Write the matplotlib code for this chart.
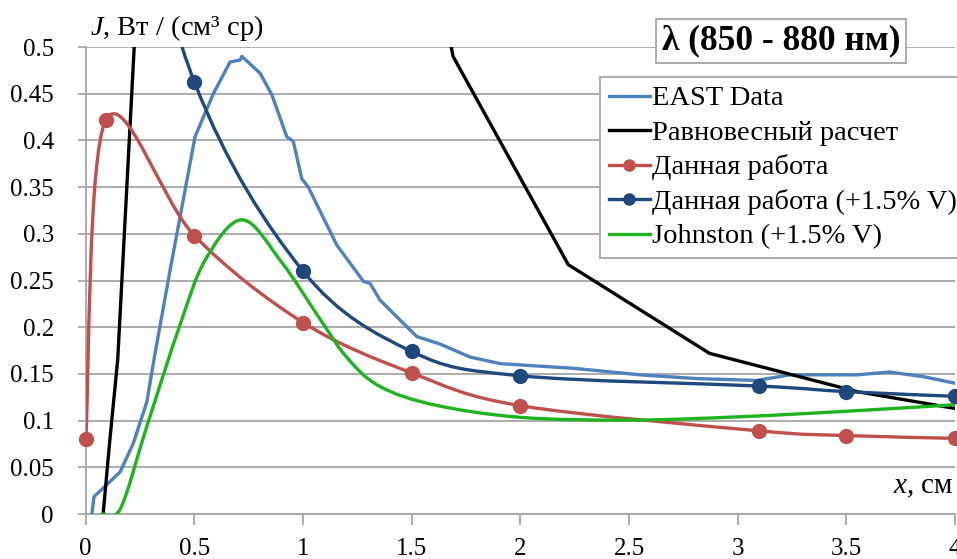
import matplotlib
matplotlib.use("Agg")
import matplotlib.pyplot as plt
import numpy as np
from matplotlib.lines import Line2D
from matplotlib.patches import PathPatch
from matplotlib.path import Path

# EAST Data (experiment)
east_x = [0.028, 0.038, 0.158, 0.219, 0.281, 0.319, 0.388, 0.503, 0.587, 0.664,
          0.71, 0.718, 0.802, 0.856, 0.925, 0.955, 0.994, 1.024, 1.155, 1.278,
          1.308, 1.354, 1.523, 1.63, 1.769, 1.907, 2.244, 2.55, 2.81, 3.088,
          3.241, 3.548, 3.70, 3.855, 4.0]
east_y = [0.0, 0.0185, 0.045, 0.0757, 0.12, 0.172, 0.261, 0.404, 0.45, 0.484,
          0.486, 0.490, 0.472, 0.449, 0.404, 0.399, 0.359, 0.350, 0.288, 0.249,
          0.247, 0.229, 0.19, 0.182, 0.168, 0.161, 0.156, 0.149, 0.145, 0.143,
          0.149, 0.149, 0.152, 0.147, 0.14]

# equilibrium calculation
eq_x = [0.08, 0.112, 0.147, 0.30, 1.50, 1.69, 2.22, 2.87, 3.55, 4.0]
eq_y = [0.0, 0.082, 0.165, 0.84, 0.72, 0.49, 0.267, 0.172, 0.131, 0.113]

# this work
work_x = [0.0, 0.093, 0.5, 1.0, 1.5, 2.0, 3.1, 3.5, 4.0]
work_y = [0.08, 0.422, 0.298, 0.205, 0.151, 0.116, 0.089, 0.084, 0.081]

# this work, +1.5% V
work_v_x = [0.093, 0.5, 1.0, 1.5, 2.0, 3.1, 3.5, 4.0]
work_v_y = [0.80, 0.4625, 0.26, 0.174, 0.148, 0.137, 0.131, 0.126]

# Johnston, +1.5% V
john_x = [0.075, 0.16, 0.28, 0.43, 0.55, 0.72, 0.90, 1.08, 1.2, 1.35,
          1.6, 2.0, 2.5, 3.0, 3.5, 4.0]
john_y = [0.0, 0.006, 0.093, 0.2, 0.272, 0.315, 0.27, 0.208, 0.168,
          0.137, 0.117, 0.1035, 0.1005, 0.104, 0.11, 0.117]

x_ticks = [0, 0.5, 1, 1.5, 2, 2.5, 3, 3.5, 4]
y_ticks = [0, 0.05, 0.1, 0.15, 0.2, 0.25, 0.3, 0.35, 0.4, 0.45, 0.5]

labels = ["EAST Data", "Равновесный расчет", "Данная работа",
          "Данная работа (+1.5% V)", "Johnston (+1.5% V)"]

C_EAST = "#4F81BD"
C_EQ = "#000000"
C_WORK = "#C0504D"
C_WORK_V = "#1F497D"
C_JOHN = "#1EB41E"
GRID = "#A6A6A6"

plt.rcParams["font.family"] = ["Liberation Serif", "DejaVu Serif"]
plt.rcParams["mathtext.fontset"] = "custom"
plt.rcParams["mathtext.it"] = "Liberation Serif:italic"
plt.rcParams["mathtext.rm"] = "Liberation Serif"


def smooth_path(xs, ys):
    """Bezier spline through the points, like a smoothed spreadsheet line."""
    pts = np.column_stack([xs, ys]).astype(float)
    n = len(pts)
    verts = [pts[0]]
    codes = [Path.MOVETO]
    for i in range(n - 1):
        p0 = pts[i - 1] if i > 0 else pts[i]
        p1 = pts[i]
        p2 = pts[i + 1]
        p3 = pts[i + 2] if i + 2 < n else pts[i + 1]
        verts += [p1 + (p2 - p0) / 6, p2 - (p3 - p1) / 6, p2]
        codes += [Path.CURVE4] * 3
    return Path(verts, codes)


fig = plt.figure(figsize=(9.57, 5.59), dpi=100)
ax = fig.add_axes([0.0896, 0.0805, 0.9084, 0.8354])

lw = 2.4
ax.plot(east_x, east_y, color=C_EAST, lw=lw, zorder=3)
ax.plot(eq_x, eq_y, color=C_EQ, lw=lw, zorder=3)
for xs, ys, c in [(work_x, work_y, C_WORK), (work_v_x, work_v_y, C_WORK_V),
                  (john_x, john_y, C_JOHN)]:
    ax.add_patch(PathPatch(smooth_path(xs, ys), fill=False, edgecolor=c,
                           lw=lw, zorder=3, capstyle="round"))
ax.plot(work_x, work_y, "o", color=C_WORK, ms=10, zorder=4, clip_on=False)
ax.plot(work_v_x[1:], work_v_y[1:], "o", color=C_WORK_V, ms=10, zorder=4,
        clip_on=False)

ax.set_xlim(0, 4)
ax.set_ylim(0, 0.5)
ax.set_xticks(x_ticks)
ax.set_xticklabels([f"{v:g}" for v in x_ticks])
ax.set_yticks(y_ticks)
ax.set_yticklabels([f"{v:g}" for v in y_ticks])
ax.tick_params(axis="both", labelsize=18, color=GRID, width=1.3)
ax.tick_params(axis="y", length=6, pad=17)
ax.tick_params(axis="x", length=8, pad=9)
ax.grid(axis="y", color=GRID, lw=1.3)
ax.set_axisbelow(True)
for side in ["top", "right"]:
    ax.spines[side].set_visible(False)
for side in ["left", "bottom"]:
    ax.spines[side].set_color(GRID)
    ax.spines[side].set_linewidth(1.3)

fig.text(90 / 957, 1 - 28 / 559, r"$J$, Вт / (см³ ср)", fontsize=20.5,
         ha="left", va="center")
ax.text(0.998, 0.057, r"$x$, см", transform=ax.transAxes, fontsize=21,
        ha="right", va="center")

fig.text(781 / 957, 1 - 41 / 559, "λ (850 - 880 нм)", fontsize=25.5,
         fontweight="bold", ha="center", va="center",
         bbox=dict(boxstyle="square,pad=0.15", facecolor="white",
                   edgecolor=GRID, lw=1.3))

handles = [
    Line2D([], [], color=C_EAST, lw=lw),
    Line2D([], [], color=C_EQ, lw=lw),
    Line2D([], [], color=C_WORK, lw=lw, marker="o", ms=8),
    Line2D([], [], color=C_WORK_V, lw=lw, marker="o", ms=8),
    Line2D([], [], color=C_JOHN, lw=lw),
]
leg = fig.legend(handles, labels, loc="upper left",
                 bbox_to_anchor=(600 / 957, 1 - 77 / 559), fontsize=20.5,
                 frameon=True, fancybox=False, framealpha=1, edgecolor=GRID,
                 handlelength=1.45, handletextpad=0.06, labelspacing=0.3,
                 borderpad=0.3, borderaxespad=0)
leg.get_frame().set_linewidth(1.3)

fig.savefig("out.png", dpi=100)
plt.close(fig)
